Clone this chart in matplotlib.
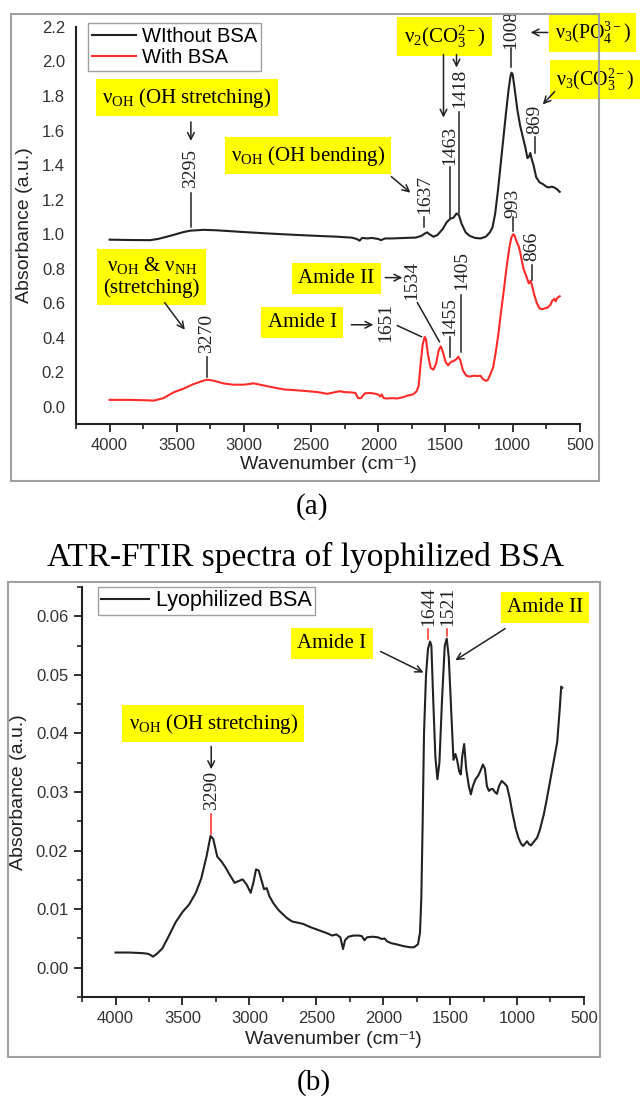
import matplotlib
matplotlib.use('Agg')
import matplotlib.pyplot as plt
from matplotlib.patches import Rectangle
from matplotlib.ticker import MultipleLocator

plt.rcParams['font.family'] = ['Liberation Sans', 'DejaVu Sans']
plt.rcParams['mathtext.fontset'] = 'custom'
plt.rcParams['mathtext.rm'] = 'Liberation Serif'
plt.rcParams['mathtext.it'] = 'Liberation Serif:italic'
plt.rcParams['mathtext.bf'] = 'Liberation Serif:bold'

# ---- panel (a): hydroxyapatite without / with BSA ----
wn_without = [4000, 3850, 3700, 3640, 3550, 3450, 3400, 3300, 3200, 3000, 2800, 2600,
              2400, 2300, 2250, 2200, 2160, 2140, 2120, 2080, 2050, 2000, 1980, 1950,
              1900, 1800, 1720, 1680, 1650, 1637, 1620, 1590, 1560, 1520, 1490, 1463,
              1440, 1418, 1400, 1380, 1350, 1320, 1280, 1240, 1200, 1170, 1150, 1130,
              1110, 1090, 1070, 1050, 1030, 1015, 1008, 1000, 985, 965, 945, 925, 905,
              890, 878, 869, 860, 845, 825, 800, 775, 750, 730, 710, 690, 670, 650]
abs_without = [0.968, 0.966, 0.965, 0.972, 0.99, 1.012, 1.02, 1.025, 1.022, 1.012, 1.003,
               0.995, 0.988, 0.985, 0.982, 0.98, 0.972, 0.962, 0.978, 0.975, 0.978, 0.972,
               0.965, 0.975, 0.975, 0.978, 0.98, 0.99, 1.005, 1.01, 1.0, 0.985, 0.995,
               1.03, 1.07, 1.09, 1.095, 1.12, 1.11, 1.06, 1.01, 0.99, 0.978, 0.975, 0.985,
               1.01, 1.04, 1.12, 1.25, 1.4, 1.55, 1.7, 1.84, 1.92, 1.935, 1.925, 1.84,
               1.72, 1.63, 1.565, 1.5, 1.44, 1.45, 1.47, 1.44, 1.4, 1.33, 1.3, 1.29,
               1.275, 1.27, 1.275, 1.27, 1.26, 1.245]

wn_with = [4000, 3850, 3750, 3670, 3600, 3520, 3450, 3380, 3300, 3270, 3220, 3150, 3080,
           3000, 2960, 2930, 2880, 2800, 2700, 2650, 2550, 2450, 2380, 2320, 2290, 2250,
           2200, 2170, 2150, 2130, 2100, 2060, 2020, 2000, 1985, 1975, 1960, 1940, 1900,
           1860, 1820, 1780, 1740, 1715, 1700, 1685, 1670, 1655, 1645, 1630, 1610, 1590,
           1570, 1550, 1534, 1520, 1500, 1480, 1465, 1455, 1440, 1420, 1405, 1390, 1370,
           1345, 1320, 1290, 1260, 1240, 1220, 1200, 1185, 1165, 1145, 1125, 1105, 1085,
           1065, 1045, 1025, 1010, 995, 985, 970, 955, 940, 920, 900, 880, 866, 855, 840,
           820, 800, 780, 760, 740, 720, 705, 690, 680, 670, 650]
abs_with = [0.04, 0.04, 0.038, 0.036, 0.05, 0.085, 0.105, 0.13, 0.152, 0.157, 0.15, 0.135,
            0.128, 0.128, 0.132, 0.136, 0.128, 0.115, 0.1, 0.098, 0.092, 0.085, 0.075,
            0.085, 0.09, 0.085, 0.083, 0.08, 0.05, 0.05, 0.078, 0.08, 0.075, 0.07, 0.06,
            0.072, 0.05, 0.048, 0.05, 0.048, 0.055, 0.065, 0.072, 0.09, 0.12, 0.25, 0.36,
            0.405, 0.39, 0.3, 0.225, 0.215, 0.25, 0.33, 0.35, 0.32, 0.26, 0.24, 0.255,
            0.262, 0.265, 0.275, 0.29, 0.27, 0.21, 0.18, 0.175, 0.18, 0.178, 0.18, 0.16,
            0.15, 0.155, 0.19, 0.23, 0.32, 0.43, 0.56, 0.68, 0.81, 0.92, 0.98, 1.0, 0.99,
            0.955, 0.93, 0.88, 0.8, 0.76, 0.715, 0.73, 0.7, 0.65, 0.6, 0.57, 0.565, 0.57,
            0.575, 0.59, 0.615, 0.625, 0.61, 0.63, 0.64]

# ---- panel (b): lyophilized BSA ----
wn_bsa = [4000, 3900, 3800, 3760, 3740, 3720, 3690, 3650, 3600, 3550, 3500, 3450, 3400,
          3360, 3320, 3290, 3270, 3240, 3210, 3180, 3150, 3110, 3080, 3050, 3020, 2990,
          2970, 2950, 2930, 2910, 2890, 2870, 2850, 2820, 2780, 2720, 2680, 2600, 2540,
          2480, 2420, 2380, 2350, 2320, 2300, 2285, 2260, 2220, 2180, 2160, 2140, 2120,
          2080, 2040, 2010, 1990, 1970, 1940, 1900, 1850, 1800, 1770, 1740, 1725, 1715,
          1705, 1695, 1680, 1665, 1650, 1640, 1625, 1610, 1595, 1580, 1560, 1540, 1525,
          1510, 1490, 1475, 1460, 1448, 1432, 1420, 1410, 1395, 1380, 1360, 1345, 1330,
          1310, 1290, 1270, 1255, 1240, 1225, 1210, 1195, 1180, 1165, 1150, 1135, 1115,
          1095, 1075, 1055, 1035, 1010, 990, 970, 955, 940, 925, 910, 895, 875, 850, 830,
          800, 780, 760, 740, 720, 700, 690, 680, 670, 662]
abs_bsa = [0.0026, 0.0026, 0.0025, 0.0024, 0.0022, 0.0019, 0.0024, 0.0033, 0.0055, 0.0078,
           0.0095, 0.0108, 0.0128, 0.0152, 0.019, 0.0225, 0.022, 0.019, 0.0182, 0.0172,
           0.016, 0.0145, 0.0148, 0.0151, 0.0142, 0.0128, 0.0145, 0.0168, 0.0166, 0.015,
           0.0134, 0.0136, 0.0122, 0.011, 0.0098, 0.0085, 0.0079, 0.0075, 0.0069, 0.0064,
           0.0059, 0.0055, 0.0057, 0.0052, 0.0032, 0.0047, 0.0053, 0.0055, 0.0055, 0.0054,
           0.0047, 0.0052, 0.0053, 0.0052, 0.0049, 0.005, 0.0045, 0.0042, 0.004, 0.0037,
           0.0035, 0.0035, 0.004, 0.006, 0.012, 0.025, 0.04, 0.05, 0.0545, 0.0557, 0.055,
           0.045, 0.036, 0.0322, 0.035, 0.046, 0.055, 0.0562, 0.053, 0.043, 0.0355, 0.0365,
           0.0355, 0.0335, 0.033, 0.036, 0.0382, 0.034, 0.031, 0.0296, 0.031, 0.0322,
           0.0328, 0.0338, 0.0347, 0.034, 0.031, 0.0302, 0.0305, 0.0305, 0.03, 0.0297,
           0.031, 0.0319, 0.0315, 0.031, 0.029, 0.0265, 0.0238, 0.0222, 0.0212, 0.0208,
           0.0212, 0.0216, 0.0211, 0.0209, 0.0215, 0.0222, 0.0235, 0.0262, 0.0285, 0.031,
           0.0335, 0.036, 0.0385, 0.0415, 0.0445, 0.048, 0.0478]

x_ticks = [4000, 3500, 3000, 2500, 2000, 1500, 1000, 500]
SERIF = 'Liberation Serif'
YELLOW = '#ffff00'
RED = '#ff2a2a'


def style_axes(ax):
    ax.spines['top'].set_visible(False)
    ax.spines['right'].set_visible(False)
    for s in ('left', 'bottom'):
        ax.spines[s].set_linewidth(1.5)
        ax.spines[s].set_color('#222222')
    ax.set_xlim(4250, 500)
    ax.set_xticks(x_ticks)
    ax.xaxis.set_minor_locator(MultipleLocator(250))
    ax.tick_params(axis='both', which='major', labelsize=12, labelcolor='#333333',
                   direction='out', length=6, width=1.3, color='#222222', pad=4)
    ax.tick_params(axis='both', which='minor', direction='out', length=3.5, width=1.2,
                   color='#222222')
    ax.set_xlabel('Wavenumber (cm⁻¹)', fontsize=14, color='#222222', labelpad=2)
    ax.set_ylabel('Absorbance (a.u.)', fontsize=14, color='#222222', labelpad=6)


def box_label(ax, x, y, txt, ha='center', size=15):
    ax.text(x, y, txt, family=SERIF, fontsize=size, ha=ha, va='center', clip_on=False,
            bbox=dict(boxstyle='square,pad=0.3', fc=YELLOW, ec='none'))


def peak_label(ax, x, y_txt, y0, y1, txt, line_color='#222222', size=14):
    ax.text(x, y_txt, txt, family=SERIF, fontsize=size, rotation=90, ha='center',
            va='center', color='#222222', clip_on=False)
    ax.plot([x, x], [y0, y1], color=line_color, lw=1.1, clip_on=False)


def arrow(ax, start, end):
    ax.annotate('', xy=end, xytext=start, annotation_clip=False,
                arrowprops=dict(arrowstyle='->', lw=1.1, color='#222222',
                                shrinkA=0, shrinkB=0, mutation_scale=12))


fig = plt.figure(figsize=(6.41, 11.0), dpi=100)

# panel frames
fig.patches.append(Rectangle((0.0172, 0.5627), 0.917, 0.4245, transform=fig.transFigure,
                             fill=False, ec='#a0a0a0', lw=1.5))
fig.patches.append(Rectangle((0.0125, 0.0391), 0.9236, 0.4318, transform=fig.transFigure,
                             fill=False, ec='#a0a0a0', lw=1.5))

# ================= (a) =================
ax1 = fig.add_axes([0.1186, 0.6145, 0.786, 0.361])
ax1.plot(wn_without, abs_without, color='#222222', lw=1.5, label='WIthout BSA')
ax1.plot(wn_with, abs_with, color=RED, lw=1.5, label='With BSA')
style_axes(ax1)
ax1.set_ylim(-0.1, 2.2)
ax1.set_yticks([0.0, 0.2, 0.4, 0.6, 0.8, 1.0, 1.2, 1.4, 1.6, 1.8, 2.0, 2.2])
ax1.tick_params(axis='y', which='major', length=0, pad=8)
leg1 = ax1.legend(loc='upper left', bbox_to_anchor=(0.023, 1.01), fontsize=14.5,
                  frameon=True, fancybox=False, edgecolor='#888888', borderaxespad=0,
                  handlelength=2.2, handletextpad=0.3, borderpad=0.2, labelspacing=0.1)
leg1.get_frame().set_linewidth(1.0)

# black curve annotations
box_label(ax1, 3425, 1.79, 'ν$_{\\mathrm{OH}}$ (OH stretching)')
arrow(ax1, (3395, 1.65), (3395, 1.54))
peak_label(ax1, 3395, 1.38, 1.24, 1.043, '3295')

box_label(ax1, 2522, 1.455, 'ν$_{\\mathrm{OH}}$ (OH bending)')
arrow(ax1, (1903, 1.333), (1761, 1.24))
peak_label(ax1, 1657, 1.229, 1.10, 1.04, '1637')

box_label(ax1, 1507, 2.145, 'ν$_2$(CO$_3^{2-}$)')
arrow(ax1, (1515, 2.04), (1515, 1.675))
arrow(ax1, (1418, 2.04), (1418, 1.965))
peak_label(ax1, 1470, 1.513, 1.39, 1.096, '1463')
peak_label(ax1, 1396, 1.843, 1.71, 1.125, '1418')

peak_label(ax1, 1015, 2.185, 2.08, 1.97, '1008')
arrow(ax1, (739, 2.168), (866, 2.168))
box_label(ax1, 688, 2.168, 'ν$_3$(PO$_4^{3-}$)', ha='left', size=14.3)
box_label(ax1, 680, 1.896, 'ν$_3$(CO$_3^{2-}$)', ha='left', size=14.3)
arrow(ax1, (687, 1.826), (776, 1.751))
peak_label(ax1, 836, 1.664, 1.56, 1.472, '869')

# red curve annotations
box_label(ax1, 3687, 0.754, 'ν$_{\\mathrm{OH}}$ & ν$_{\\mathrm{NH}}$\n(stretching)')
arrow(ax1, (3590, 0.603), (3440, 0.446))
peak_label(ax1, 3276, 0.423, 0.29, 0.174, '3270')

box_label(ax1, 2313, 0.742, 'Amide II')
arrow(ax1, (1948, 0.748), (1821, 0.748))
ax1.text(1754, 0.73, '1534', family=SERIF, fontsize=14, rotation=90, ha='center',
         va='center', color='#222222')
ax1.plot([1709, 1545], [0.603, 0.377], color='#222222', lw=1.1)

box_label(ax1, 2567, 0.487, 'Amide I')
arrow(ax1, (2201, 0.475), (2037, 0.475))
ax1.text(1948, 0.487, '1651', family=SERIF, fontsize=14, rotation=90, ha='center',
         va='center', color='#222222')
ax1.plot([1858, 1679], [0.47, 0.406], color='#222222', lw=1.1)

peak_label(ax1, 1470, 0.522, 0.406, 0.29, '1455')
peak_label(ax1, 1381, 0.788, 0.649, 0.319, '1405')
peak_label(ax1, 1000, 1.18, 1.10, 1.02, '993')
peak_label(ax1, 858, 0.928, 0.823, 0.736, '866')

fig.text(0.487, 1 - 507 / 1100, '(a)', family=SERIF, fontsize=21, ha='center',
         va='center')

# ================= (b) =================
fig.text(0.477, 1 - 557 / 1100, 'ATR-FTIR spectra of lyophilized BSA', family=SERIF,
         fontsize=24, ha='center', va='center')

ax2 = fig.add_axes([0.128, 0.0936, 0.783, 0.3727])
ax2.plot(wn_bsa, abs_bsa, color='#222222', lw=1.5, label='Lyophilized BSA')
style_axes(ax2)
ax2.set_ylim(-0.005, 0.065)
ax2.set_yticks([0.0, 0.01, 0.02, 0.03, 0.04, 0.05, 0.06])
ax2.set_yticklabels(['0.00', '0.01', '0.02', '0.03', '0.04', '0.05', '0.06'])
ax2.yaxis.set_minor_locator(MultipleLocator(0.005))
ax2.xaxis.labelpad = 4
leg2 = ax2.legend(loc='upper left', bbox_to_anchor=(0.032, 1.0), fontsize=15.5,
                  frameon=True, fancybox=False, edgecolor='#888888', borderaxespad=0,
                  handlelength=2.2, handletextpad=0.35, borderpad=0.15)
leg2.get_frame().set_linewidth(1.0)

box_label(ax2, 3270, 0.0417, 'ν$_{\\mathrm{OH}}$ (OH stretching)')
arrow(ax2, (3285, 0.0378), (3285, 0.0339))
peak_label(ax2, 3285, 0.0302, 0.0262, 0.0228, '3290', line_color=RED)

peak_label(ax2, 1662, 0.0617, 0.0578, 0.0562, '1644', line_color=RED)
peak_label(ax2, 1520, 0.0617, 0.0578, 0.0566, '1521', line_color=RED)
box_label(ax2, 2384, 0.0554, 'Amide I')
arrow(ax2, (2019, 0.054), (1699, 0.0504))
box_label(ax2, 791, 0.0615, 'Amide II')
arrow(ax2, (1089, 0.0579), (1461, 0.0525))

fig.text(0.49, 1 - 1083 / 1100, '(b)', family=SERIF, fontsize=21, ha='center',
         va='center')

fig.savefig('out.png', dpi=100)
